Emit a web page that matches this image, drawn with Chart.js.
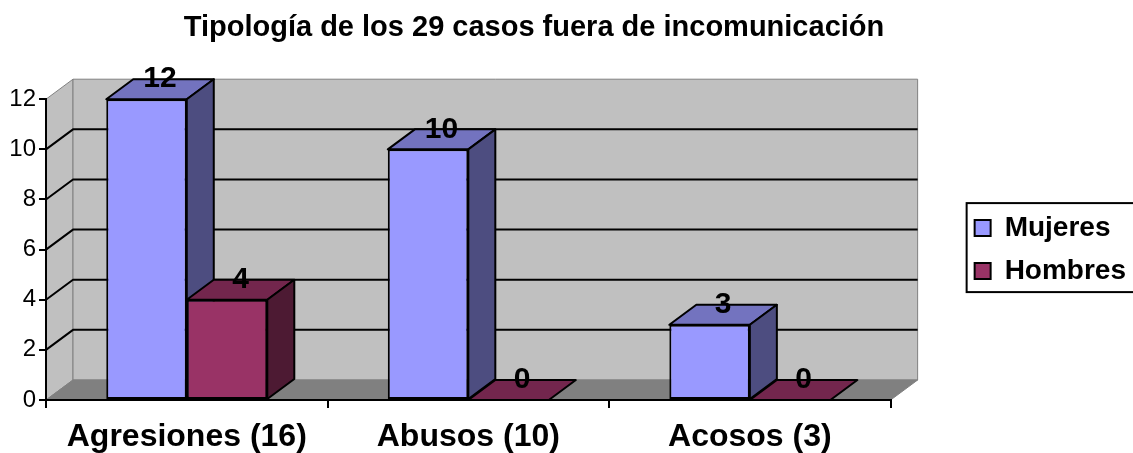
<!DOCTYPE html>
<html>
<head>
<meta charset="utf-8">
<script src="https://cdn.jsdelivr.net/npm/chart.js@4"></script>
<style>
  body { margin: 0; background: #fff; }
  #wrap { width: 1133px; height: 453px; }
</style>
</head>
<body>
<div id="wrap"><canvas id="chart"></canvas></div>
<script>
const categories = ['Agresiones (16)', 'Abusos (10)', 'Acosos (3)']
const mujeres = [12, 10, 3]
const hombres = [4, 0, 0]
const seriesNames = ['Mujeres', 'Hombres']
const yMax = 12
const yStep = 2

// depth of the fake 3d
const DX = 27
const DY = -20

const faces = [
  { front: '#9999ff', top: '#7373bf', side: '#4d4d80' },
  { front: '#993366', top: '#73264d', side: '#4d1a33' }
]

Chart.defaults.font.family = '"Liberation Sans", Arial, sans-serif'
Chart.defaults.color = '#000'

function poly(ctx, pts, fill, stroke, lw) {
  ctx.beginPath()
  ctx.moveTo(pts[0][0], pts[0][1])
  for (let i = 1; i < pts.length; i++) ctx.lineTo(pts[i][0], pts[i][1])
  ctx.closePath()
  ctx.fillStyle = fill
  ctx.fill()
  ctx.lineWidth = lw
  ctx.strokeStyle = stroke
  ctx.lineJoin = 'round'
  ctx.stroke()
}

function drawDepth(ctx, bar, c) {
  const p = bar.getProps(['x', 'y', 'base', 'width'], true)
  const x1 = p.x - p.width / 2
  const x2 = p.x + p.width / 2
  poly(ctx, [[x1, p.y], [x2, p.y], [x2 + DX, p.y + DY], [x1 + DX, p.y + DY]], c.top, '#000', 2)
  if (p.base - p.y > 0.5) {
    poly(ctx, [[x2, p.y], [x2 + DX, p.y + DY], [x2 + DX, p.base + DY], [x2, p.base]], c.side, '#000', 2)
  }
}

const depthPlugin = {
  id: 'depth',
  beforeDraw(chart) {
    const ctx = chart.ctx
    const a = chart.chartArea
    const y = chart.scales.y
    ctx.save()
    poly(ctx, [[a.left, a.top], [a.left + DX, a.top + DY], [a.left + DX, a.bottom + DY], [a.left, a.bottom]], '#c0c0c0', '#808080', 1)
    poly(ctx, [[a.left + DX, a.top + DY], [a.right + DX, a.top + DY], [a.right + DX, a.bottom + DY], [a.left + DX, a.bottom + DY]], '#c0c0c0', '#808080', 1)
    poly(ctx, [[a.left, a.bottom], [a.right, a.bottom], [a.right + DX, a.bottom + DY], [a.left + DX, a.bottom + DY]], '#808080', '#808080', 1)
    ctx.strokeStyle = '#000'
    ctx.lineWidth = 2
    for (let v = yStep; v < yMax; v += yStep) {
      const py = y.getPixelForValue(v)
      ctx.beginPath()
      ctx.moveTo(a.left, py)
      ctx.lineTo(a.left + DX, py + DY)
      ctx.lineTo(a.right + DX, py + DY)
      ctx.stroke()
    }
    ctx.restore()
  },
  afterDatasetsDraw(chart) {
    const ctx = chart.ctx
    const m0 = chart.getDatasetMeta(0).data
    const m1 = chart.getDatasetMeta(1).data
    ctx.save()
    // mujeres faces first, then hombres front again so it sits in front
    m0.forEach((bar, j) => {
      drawDepth(ctx, bar, faces[0])
      m1[j].draw(ctx)
      drawDepth(ctx, m1[j], faces[1])
    })
    ctx.font = 'bold 30px "Liberation Sans", Arial, sans-serif'
    ctx.fillStyle = '#000'
    ctx.textAlign = 'center'
    ctx.textBaseline = 'middle'
    chart.data.datasets.forEach((ds, i) => {
      chart.getDatasetMeta(i).data.forEach((bar, j) => {
        const p = bar.getProps(['x', 'y'], true)
        ctx.fillText(String(ds.data[j]), p.x + DX / 2, p.y + DY)
      })
    })
    ctx.restore()
  },
  afterDraw(chart) {
    const lg = chart.legend
    const hb = lg.legendHitBoxes
    if (!hb || !hb.length) return
    const ctx = chart.ctx
    const last = hb[hb.length - 1]
    ctx.save()
    ctx.strokeStyle = '#000'
    ctx.lineWidth = 2
    const top = hb[0].top - 11
    const bottom = last.top + last.height + 7
    ctx.strokeRect(hb[0].left - 8, top, chart.width + 10, bottom - top)
    ctx.restore()
  }
}

new Chart(document.getElementById('chart'), {
  type: 'bar',
  data: {
    labels: categories,
    datasets: [{
      label: seriesNames[0],
      data: mujeres,
      backgroundColor: faces[0].front,
      borderColor: '#000',
      borderWidth: 2,
      borderSkipped: false
    }, {
      label: seriesNames[1],
      data: hombres,
      backgroundColor: faces[1].front,
      borderColor: '#000',
      borderWidth: 2,
      borderSkipped: false
    }]
  },
  options: {
    responsive: true,
    maintainAspectRatio: false,
    animation: false,
    layout: { padding: { left: -68, right: -3, top: 0, bottom: 0 } },
    datasets: { bar: { categoryPercentage: 0.572, barPercentage: 1 } },
    plugins: {
      title: {
        display: true,
        text: 'Tipología de los 29 casos fuera de incomunicación',
        font: { size: 29, weight: 'bold' },
        padding: { top: 11, bottom: 53.4 }
      },
      legend: {
        position: 'right',
        fullSize: false,
        labels: {
          boxWidth: 16,
          boxHeight: 16,
          padding: 15,
          font: { size: 28, weight: 'bold' }
        }
      },
      tooltip: { enabled: false }
    },
    scales: {
      x: {
        grid: { offset: true, drawOnChartArea: false, tickLength: 8, color: '#000', lineWidth: 2 },
        border: { color: '#000', width: 2 },
        ticks: { font: { size: 32, weight: 'bold' }, padding: 10, maxRotation: 0 },
        afterFit: s => { s.height = 53 }
      },
      y: {
        min: 0,
        max: yMax,
        ticks: { stepSize: yStep, font: { size: 24 }, padding: 3 },
        grid: { drawOnChartArea: false, tickLength: 7, color: '#000', lineWidth: 2 },
        border: { color: '#000', width: 2 },
        afterFit: s => { s.width = 114 }
      },
      y2: {
        position: 'right',
        ticks: { display: false },
        grid: { display: false },
        border: { display: false },
        afterFit: s => { s.width = 69 }
      }
    }
  },
  plugins: [depthPlugin]
})
</script>
</body>
</html>
